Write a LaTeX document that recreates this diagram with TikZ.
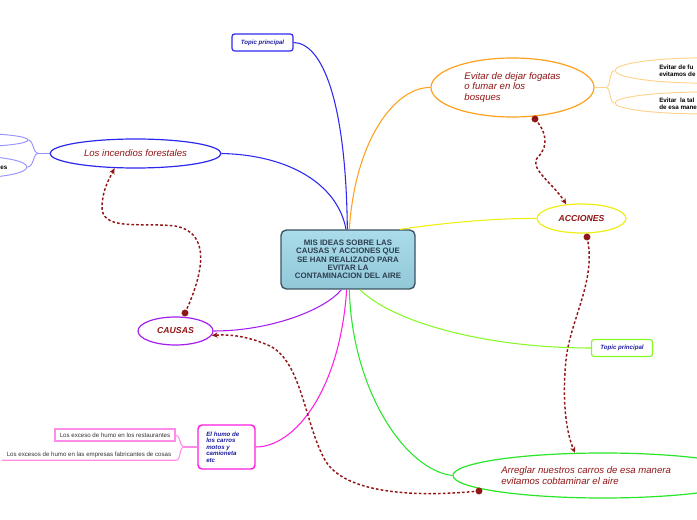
\documentclass[tikz,border=0pt]{standalone}
\usepackage{fontspec}
\setmainfont{Liberation Sans}
\usetikzlibrary{shapes.geometric,arrows.meta}
\definecolor{dred}{RGB}{145,22,22}
\definecolor{tblue}{RGB}{30,30,160}
\definecolor{cblue}{RGB}{45,40,240}
\definecolor{lblue}{RGB}{150,145,255}
\definecolor{cpurple}{RGB}{165,30,240}
\definecolor{cmagenta}{RGB}{255,30,225}
\definecolor{cpink}{RGB}{255,140,230}
\definecolor{corange}{RGB}{255,160,30}
\definecolor{lorange}{RGB}{255,210,140}
\definecolor{cyellow}{RGB}{238,238,20}
\definecolor{clgreen}{RGB}{135,250,35}
\definecolor{cgreen}{RGB}{40,230,40}
\definecolor{cfilltop}{RGB}{170,220,234}
\definecolor{cfillbot}{RGB}{145,200,216}
\definecolor{cborder}{RGB}{60,82,98}
\definecolor{ctext}{RGB}{45,62,80}
\begin{document}
\begin{tikzpicture}[x=0.75pt,y=-0.75pt,
  central/.style={rectangle, rounded corners=4pt, draw=cborder, line width=1pt,
    top color=cfilltop, bottom color=cfillbot, minimum width=100.5pt, minimum height=44.25pt,
    align=center, inner sep=0pt, text=ctext, font=\fontsize{5.9}{6.2}\selectfont\bfseries},
  ell/.style={ellipse, draw, line width=0.9pt, fill=white, inner sep=0pt},
  lbl/.style={font=\fontsize{7.2}{8.1}\selectfont\itshape, text=dred},
  lblb/.style={font=\fontsize{6.5}{8}\selectfont\bfseries\itshape, text=dred},
  tpbox/.style={rectangle, rounded corners=2pt, draw, line width=0.9pt, fill=white,
    minimum width=45.75pt, minimum height=12.75pt, inner sep=0pt,
    font=\fontsize{4.6}{5.5}\selectfont\bfseries\itshape, text=tblue},
  small/.style={font=\fontsize{4.6}{5.3}\selectfont, text=black!80},
  smallb/.style={font=\fontsize{4.7}{5.3}\selectfont\bfseries, text=black},
  link/.style={line width=0.8pt},
  rel/.style={draw=dred, line width=1.1pt, dash pattern=on 2pt off 1.6pt, -{Stealth[length=4.5pt,width=4pt]}},
  reldot/.style={fill=dred}
]
\useasboundingbox (0,0) rectangle (697,520);
\begin{scope}
\clip (0,0) rectangle (697,520);

% ---------- nodes ----------
\node[central] (c) at (348,259.5) {MIS IDEAS SOBRE LAS\\CAUSAS Y ACCIONES QUE\\SE HAN REALIZADO PARA\\EVITAR LA\\CONTAMINACION DEL AIRE};

\node[tpbox, draw=cblue] (tp1) at (262.5,42.5) {Topic principal};
\node[tpbox, draw=clgreen] (tp2) at (622,348) {Topic principal};

\node[ell, draw=cblue, minimum width=128.25pt, minimum height=21.75pt, lbl] (inc) at (135.5,153.5) {Los incendios forestales};
\node[ell, draw=lblue, line width=0.7pt, minimum width=87pt, minimum height=10pt] (lb1) at (-30,140) {};
\node[ell, draw=lblue, line width=0.7pt, minimum width=85.5pt, minimum height=16.5pt] (lb2) at (-30,167) {};
\node[smallb, anchor=west, inner sep=0pt] (lb2t) at (0,168) {es};

\node[ell, draw=cpurple, minimum width=56.25pt, minimum height=21pt, lblb] (causas) at (175.5,331) {CAUSAS};

\node[ell, draw=corange, minimum width=122.25pt, minimum height=44.25pt, lbl, align=left] (evit) at (512.5,87.5) {Evitar de dejar fogatas\\o fumar en los\\bosques};
\node[ell, draw=lorange, line width=0.7pt, minimum width=135pt, minimum height=19pt] (ro1) at (705,70.5) {};
\node[ell, draw=lorange, line width=0.7pt, minimum width=135pt, minimum height=16.5pt] (ro2) at (705,103) {};
\node[smallb, anchor=west, align=left, inner sep=0pt] (ro1t) at (659,70.5) {Evitar de fu\\evitamos de};
\node[smallb, anchor=west, align=left, inner sep=0pt] (ro2t) at (659,104) {Evitar\ \ la tal\\de esa mane};

\node[ell, draw=cyellow, minimum width=66.75pt, minimum height=21.75pt, lblb] (acc) at (581.5,218.5) {ACCIONES};

\node[ell, draw=cgreen, minimum width=225pt, minimum height=33.75pt] (arr) at (603,475.5) {};
\node[lbl, align=left, anchor=west, inner sep=0pt] (arrt) at (501,475.5) {Arreglar nuestros carros de esa manera\\evitamos cobtaminar el aire};

\node[rectangle, rounded corners=3pt, draw=cmagenta, line width=1.1pt, fill=white,
  minimum width=42.75pt, minimum height=33pt, inner sep=0pt] (humo) at (226.5,447) {};
\node[font=\fontsize{4.6}{4.9}\selectfont\bfseries\itshape, text=tblue, align=left, anchor=west, inner sep=0pt] (humot) at (206,447) {El humo de\\los carros\\motos y\\camioneta\\etc};

\node[rectangle, draw=cpink, line width=0.8pt, minimum width=90pt, minimum height=9pt, inner sep=0pt, small] (ex1) at (115,435) {Los exceso de humo en los restaurantes};
\node[minimum width=130.5pt, minimum height=7.5pt, inner sep=0pt, small] (ex2) at (89,455) {Los excesos de humo en las empresas fabricantes de cosas};

% ---------- links ----------
\draw[link, cblue] (tp1.east) .. controls (322,43) and (346,100) .. ([xshift=-0.5pt]c.north);
\draw[link, cblue] (inc.east) .. controls (290,155) and (338,185) .. ([xshift=-1.5pt]c.north);
\draw[link, corange] (evit.west) .. controls (395,87) and (355,140) .. ([xshift=1pt]c.north);
\draw[link, cyellow] ([xshift=39pt]c.north) .. controls (450,222) and (500,218) .. (acc.west);
\draw[link, cpurple] (causas.east) .. controls (270,331) and (325,310) .. ([xshift=-5pt]c.south);
\draw[link, cmagenta] (humo.east) .. controls (295,447) and (340,390) .. ([xshift=-1pt]c.south);
\draw[link, clgreen] (tp2.west) .. controls (480,348) and (390,320) .. ([xshift=9pt]c.south);
\draw[link, cgreen] (arr.west) .. controls (405,470) and (352,390) .. ([xshift=1pt]c.south);

% sub branches
\coordinate (jb) at (38,153.5);
\draw[link, lblue, line width=0.7pt] (inc.west) -- (jb);
\draw[lblue, line width=0.7pt] (jb) .. controls (33,153.5) and (34,141) .. (lb1.east);
\draw[lblue, line width=0.7pt] (jb) .. controls (33,153.5) and (34,167) .. (lb2.east);

\coordinate (jo) at (606,87.5);
\draw[lorange, line width=0.7pt] (evit.east) -- (jo);
\draw[lorange, line width=0.7pt] (jo) .. controls (611,87.5) and (609,70.5) .. (ro1.west);
\draw[lorange, line width=0.7pt] (jo) .. controls (611,87.5) and (609,103) .. (ro2.west);

\coordinate (jm) at (184,447);
\draw[cpink, line width=0.8pt] (humo.west) -- (jm);
\draw[cpink, line width=0.8pt] (jm) .. controls (179,447) and (181,435) .. (ex1.east);
\draw[cpink, line width=0.8pt] (jm) .. controls (179,447) and (181,460) .. (ex2.south east) -- (ex2.south west);

% ---------- relations ----------
\coordinate (d1) at (185,313);
\coordinate (d2) at (535,119);
\coordinate (d3) at (587,237);
\coordinate (d4) at (479,491);
\draw[rel] (d1) .. controls (205,270) and (210,232) .. (175,226) .. controls (140,222) and (100,232) .. (102,205) .. controls (103,190) and (108,181) .. (inc.-145);
\draw[rel] (d2) .. controls (545,130) and (550,145) .. (538,157) .. controls (528,168) and (552,182) .. (acc.137);
\draw[rel] (d3) .. controls (597,280) and (570,320) .. (566,360) .. controls (562,400) and (566,432) .. (arr.141);
\draw[rel] (d4) .. controls (420,497) and (345,495) .. (325,460) .. controls (305,425) and (302,362) .. (270,346) .. controls (250,337) and (232,334) .. (causas.-7);
\fill[reldot] (d1) circle (2.6pt);
\fill[reldot] (d2) circle (2.6pt);
\fill[reldot] (d3) circle (2.6pt);
\fill[reldot] (d4) circle (2.6pt);
\end{scope}
\end{tikzpicture}
\end{document}
